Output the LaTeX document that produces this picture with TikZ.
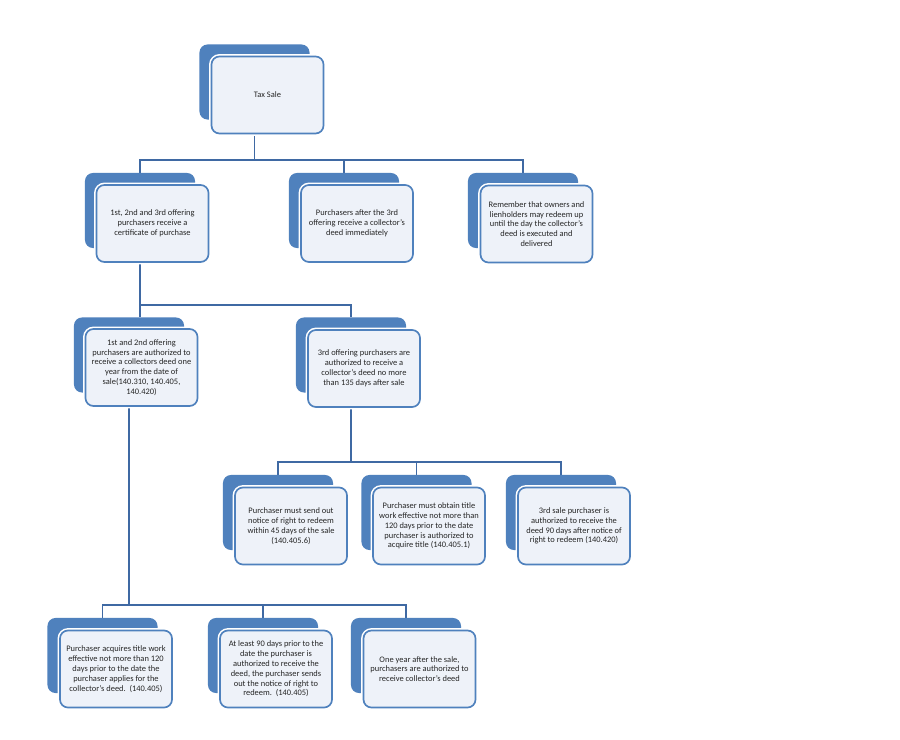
\documentclass[tikz,border=0pt]{standalone}
\usepackage{fontspec}
\setmainfont{Carlito}
\usetikzlibrary{positioning}
\definecolor{boxblue}{HTML}{4F81BD}
\definecolor{linkblue}{HTML}{3F69A3}
\definecolor{paleblue}{HTML}{EEF2F9}
\pgfdeclarelayer{lines}
\pgfsetlayers{lines,main}
\tikzset{
  backbox/.style = {rounded corners=0.2cm, fill=boxblue,
    minimum width=2.75cm, minimum height=1.875cm},% dark card behind
  frontbox/.style = {rounded corners=0.2cm, fill=paleblue, draw=boxblue,
    line width=1.2pt, preaction={draw=white, line width=3.4pt},
    minimum width=2.8cm, minimum height=1.925cm, align=center,
    inner sep=1pt, text=black!85,
    font=\fontsize{6}{7}\selectfont},% light card in front
  link/.style = {draw=linkblue, line width=1.4pt},
}
\begin{document}
\begin{tikzpicture}[x=0.025cm, y=-0.025cm]
\useasboundingbox (0,0) rectangle (900,740);
% cards: dark back card, light front card shifted right and down
\node [backbox] (taxb) at (254.5,82) {};
\node [frontbox] (tax) at (267.5,95) {Tax Sale};
\node [backbox] (ab) at (140,210.5) {};
\node [frontbox] (a) at (152.5,223.5) {1st, 2nd and 3rd offering\\ purchasers receive a\\ certificate of purchase};
\node [backbox] (bb) at (344,210.5) {};
\node [frontbox] (b) at (357,223.5) {Purchasers after the 3rd\\ offering receive a collector's\\ deed immediately};
\node [backbox] (cb) at (523,210.5) {};
\node [frontbox] (c) at (536.5,224) {Remember that owners and\\ lienholders may redeem up\\ until the day the collector's\\ deed is executed and\\ delivered};
\node [backbox] (db) at (129,355) {};
\node [frontbox] (d) at (141.5,367.5) {1st and 2nd offering\\ purchasers are authorized to\\ receive a collectors deed one\\ year from the date of\\ sale(140.310, 140.405,\\ 140.420)};
\node [backbox] (eb) at (351,355) {};
\node [frontbox] (e) at (364,368.5) {3rd offering purchasers are\\ authorized to receive a\\ collector's deed no more\\ than 135 days after sale};
\node [backbox] (fb) at (278,512.5) {};
\node [frontbox] (f) at (291,526) {Purchaser must send out\\ notice of right to redeem\\ within 45 days of the sale\\ (140.405.6)};
\node [backbox] (gb) at (416.5,512.5) {};
\node [frontbox] (g) at (429,526) {Purchaser must obtain title\\ work effective not more than\\ 120 days prior to the date\\ purchaser is authorized to\\ acquire title (140.405.1)};
\node [backbox] (hb) at (561,512.5) {};
\node [frontbox] (h) at (574,526) {3rd sale purchaser is\\ authorized to receive the\\ deed 90 days after notice of\\ right to redeem (140.420)};
\node [backbox] (ib) at (102.5,655.5) {};
\node [frontbox] (i) at (116,669) {Purchaser acquires title work\\ effective not more than 120\\ days prior to the date the\\ purchaser applies for the\\ collector's deed.\ \ (140.405)};
\node [backbox] (jb) at (263,655.5) {};
\node [frontbox] (j) at (276,669) {At least 90 days prior to the\\ date the purchaser is\\ authorized to receive the\\ deed,\ the purchaser sends\\ out the notice of right to\\ redeem.\ \ (140.405)};
\node [backbox] (kb) at (406,655.5) {};
\node [frontbox] (k) at (419.5,669) {One year after the sale,\\ purchasers are authorized to\\ receive collector's deed};
% connectors, behind the cards
\begin{pgfonlayer}{lines}
\fill [white] (0,0) rectangle (900,740);
\coordinate (bar1) at (0,160);
\coordinate (bar2) at (0,305);
\coordinate (bar3) at (0,462);
\coordinate (bar4) at (0,605);
\foreach \kid in {ab,bb,cb}
  \draw [link] (taxb.south) |- (\kid.north |- bar1) -- (\kid.north);
\draw [link] (ab.south) -- (ab.south |- db.north);
\draw [link] (ab.south) |- (eb.north |- bar2) -- (eb.north);
\foreach \kid in {fb,gb,hb}
  \draw [link] (eb.south) |- (\kid.north |- bar3) -- (\kid.north);
\foreach \kid in {ib,jb,kb}
  \draw [link] (db.south) |- (\kid.north |- bar4) -- (\kid.north);
\end{pgfonlayer}
\end{tikzpicture}
\end{document}
